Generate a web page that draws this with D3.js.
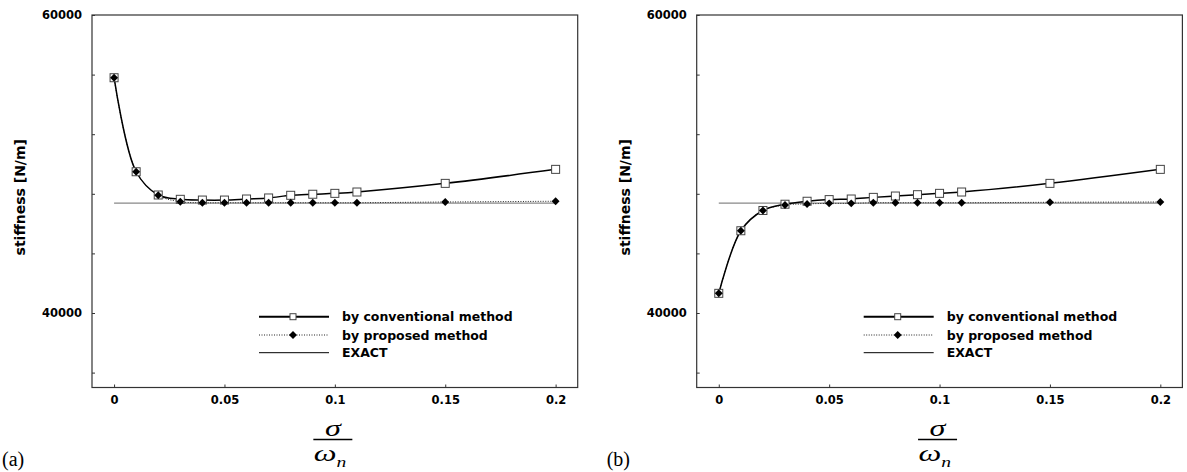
<!DOCTYPE html>
<html>
<head>
<meta charset="utf-8">
<script src="https://cdn.jsdelivr.net/npm/d3@7"></script>
<style>
  body { margin: 0; background: #fff; }
  .tick text { font-family: "DejaVu Sans", sans-serif; font-weight: bold; font-size: 11.5px; fill: #000; }
</style>
</head>
<body>
<div id="chart"></div>
<script>
// sigma / omega_n
let xVals = [0, 0.01, 0.02, 0.03, 0.04, 0.05, 0.06, 0.07, 0.08, 0.09, 0.1, 0.11, 0.15, 0.2];

// panel (a)
let convA = [55790, 49480, 47920, 47630, 47580, 47580, 47650, 47720, 47900, 47970, 48030, 48120, 48700, 49640];
let propA = [55790, 49480, 47900, 47470, 47400, 47400, 47400, 47400, 47400, 47400, 47400, 47400, 47450, 47500];

// panel (b)
let convB = [41320, 45520, 46880, 47300, 47500, 47610, 47650, 47760, 47850, 47940, 48030, 48120, 48700, 49640];
let propB = [41320, 45520, 46880, 47250, 47320, 47360, 47360, 47400, 47400, 47400, 47400, 47400, 47430, 47450];

let exactVal = 47380;

let yTicks = [36000, 40000, 44000, 48000, 52000, 56000, 60000];
let yLabels = [40000, 60000];
let xTicks = [0, 0.05, 0.1, 0.15, 0.2];
let xTickLabels = ["0", "0.05", "0.1", "0.15", "0.2"];
let legendNames = ["by conventional method", "by proposed method", "EXACT"];

let width = 1187;
let height = 472;

let svg = d3.select("#chart")
    .append("svg")
    .attr("width", width)
    .attr("height", height);

function drawPanel(left, conv, prop, tag) {
    let w = 485.7;
    let top = 15, bottom = 387.5;

    let x = d3.scaleLinear().domain([-0.01, 0.21]).range([left, left + w]);
    let y = d3.scaleLinear().domain([35000, 60000]).range([bottom, top]);

    let g = svg.append("g");

    // frame
    g.append("rect")
        .attr("x", left)
        .attr("y", top)
        .attr("width", w)
        .attr("height", bottom - top)
        .attr("fill", "none")
        .attr("stroke", "#333")
        .attr("stroke-width", 1.2);

    // y axis, ticks inside
    let yAxis = g.append("g")
        .attr("transform", "translate(" + left + ",0)")
        .call(d3.axisLeft(y)
            .tickValues(yTicks)
            .tickSizeInner(-3)
            .tickSizeOuter(0)
            .tickPadding(10)
            .tickFormat(d => yLabels.includes(d) ? d : ""));
    yAxis.select(".domain").remove();
    yAxis.selectAll("line").attr("stroke", "#333");

    // x axis
    let xAxis = g.append("g")
        .attr("transform", "translate(0," + bottom + ")")
        .call(d3.axisBottom(x)
            .tickValues(xTicks)
            .tickSizeInner(-3)
            .tickSizeOuter(0)
            .tickPadding(8)
            .tickFormat((d, i) => xTickLabels[i]));
    xAxis.select(".domain").remove();
    xAxis.selectAll("line").attr("stroke", "#333");

    // y label
    g.append("text")
        .attr("transform", "translate(" + (left - 72) + "," + ((top + bottom) / 2 - 4) + ") rotate(-90)")
        .attr("text-anchor", "middle")
        .attr("dy", "0.35em")
        .style("font-family", "DejaVu Sans, sans-serif")
        .style("font-weight", "bold")
        .style("font-size", "14px")
        .text("stiffness [N/m]");

    // x label: sigma over omega_n (glyphs drawn a bit wide, like the original)
    let cx = x(0.1) - 2;
    let fr = g.append("g")
        .attr("transform", "translate(" + cx + ",0) scale(1.4,1)");
    fr.append("text")
        .attr("x", 0)
        .attr("y", 436)
        .attr("text-anchor", "middle")
        .style("font-family", "Liberation Serif, serif")
        .style("font-style", "italic")
        .style("font-size", "23px")
        .text("σ");
    g.append("line")
        .attr("x1", cx - 19.5)
        .attr("x2", cx + 19.5)
        .attr("y1", 439.5)
        .attr("y2", 439.5)
        .attr("stroke", "#000")
        .attr("stroke-width", 1.5);
    let om = fr.append("text")
        .attr("x", -2)
        .attr("y", 461)
        .attr("text-anchor", "middle")
        .style("font-family", "Liberation Serif, serif")
        .style("font-style", "italic")
        .style("font-size", "23px");
    om.append("tspan").text("ω");
    om.append("tspan")
        .attr("dy", 6)
        .style("font-size", "14px")
        .text("n");

    // panel tag
    svg.append("text")
        .attr("x", left - 90)
        .attr("y", 466)
        .style("font-family", "Liberation Serif, serif")
        .style("font-size", "20px")
        .text(tag);

    let rows = xVals.map((d, i) => ({ s: d, c: conv[i], p: prop[i] }));

    // exact line
    g.append("line")
        .attr("x1", x(0))
        .attr("x2", x(0.2))
        .attr("y1", y(exactVal))
        .attr("y2", y(exactVal))
        .attr("stroke", "#888")
        .attr("stroke-width", 1.3);

    let lineC = d3.line().x(d => x(d.s)).y(d => y(d.c)).curve(d3.curveCatmullRom);
    let lineP = d3.line().x(d => x(d.s)).y(d => y(d.p)).curve(d3.curveCatmullRom);

    g.append("path")
        .datum(rows)
        .attr("d", lineP)
        .attr("fill", "none")
        .attr("stroke", "#222")
        .attr("stroke-width", 1)
        .attr("stroke-dasharray", "1,1.5");

    g.append("path")
        .datum(rows)
        .attr("d", lineC)
        .attr("fill", "none")
        .attr("stroke", "#000")
        .attr("stroke-width", 1.5);

    // squares
    g.selectAll(".sq")
        .data(rows)
        .enter()
        .append("rect")
        .attr("x", d => x(d.s) - 4)
        .attr("y", d => y(d.c) - 4)
        .attr("width", 8)
        .attr("height", 8)
        .attr("fill", "#fff")
        .attr("stroke", "#444")
        .attr("stroke-width", 1);

    // diamonds
    let diamond = d3.symbol().type(d3.symbolDiamond2).size(40);
    g.selectAll(".dm")
        .data(rows)
        .enter()
        .append("path")
        .attr("d", diamond)
        .attr("transform", d => "translate(" + x(d.s) + "," + y(d.p) + ")")
        .attr("fill", "#000");

    // legend
    let lx1 = left + 167, lx2 = left + 237, lm = left + 201, tx = left + 250;
    let ly = [316.7, 335, 352.7];
    let lg = g.append("g");
    lg.append("line").attr("x1", lx1).attr("x2", lx2).attr("y1", ly[0]).attr("y2", ly[0])
        .attr("stroke", "#000").attr("stroke-width", 2);
    lg.append("rect").attr("x", lm - 3).attr("y", ly[0] - 3).attr("width", 6).attr("height", 6)
        .attr("fill", "#fff").attr("stroke", "#444");
    lg.append("line").attr("x1", lx1).attr("x2", lx2).attr("y1", ly[1]).attr("y2", ly[1])
        .attr("stroke", "#222").attr("stroke-width", 1).attr("stroke-dasharray", "1,1.5");
    lg.append("path").attr("d", diamond).attr("transform", "translate(" + lm + "," + ly[1] + ")")
        .attr("fill", "#000");
    lg.append("line").attr("x1", lx1).attr("x2", lx2).attr("y1", ly[2]).attr("y2", ly[2])
        .attr("stroke", "#000").attr("stroke-width", 1);

    lg.selectAll(".lt")
        .data(legendNames)
        .enter()
        .append("text")
        .attr("x", tx)
        .attr("y", (d, i) => ly[i])
        .attr("dy", "0.38em")
        .style("font-family", "DejaVu Sans, sans-serif")
        .style("font-weight", "bold")
        .style("font-size", "12.5px")
        .text(d => d);
}

drawPanel(92, convA, propA, "(a)");
drawPanel(696.7, convB, propB, "(b)");
</script>
</body>
</html>
